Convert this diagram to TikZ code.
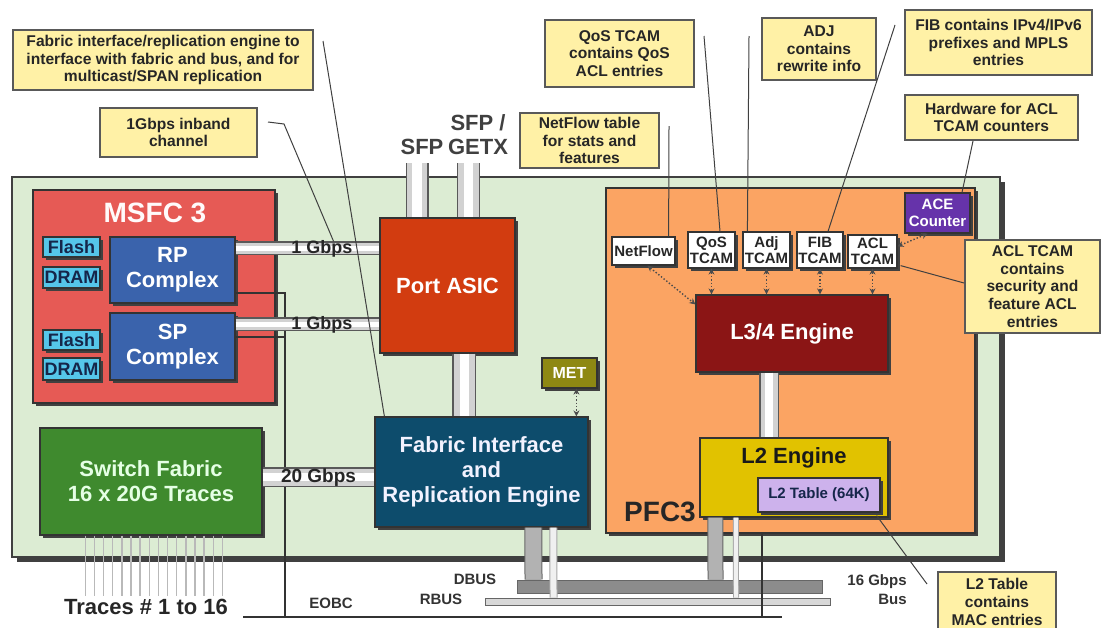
\documentclass[tikz,border=0pt]{standalone}
\usepackage{fontspec}
\setmainfont{Liberation Sans}
\usetikzlibrary{arrows.meta,calc,shadows}

\definecolor{cardgreen}{HTML}{DCECD3}
\definecolor{notefill}{HTML}{FFF1A6}
\definecolor{msfcred}{HTML}{E65A55}
\definecolor{memcyan}{HTML}{55C6EA}
\definecolor{navytext}{HTML}{15264A}
\definecolor{cpublue}{HTML}{3A63AC}
\definecolor{asicred}{HTML}{D23C10}
\definecolor{firblue}{HTML}{0D4C6C}
\definecolor{fabgreen}{HTML}{3F8A2E}
\definecolor{metolive}{HTML}{8E8813}
\definecolor{pfcorange}{HTML}{FBA463}
\definecolor{lthreered}{HTML}{8B1515}
\definecolor{ltwoyellow}{HTML}{E1C200}
\definecolor{ltwolav}{HTML}{CDB2EC}
\definecolor{acepurple}{HTML}{6633AA}
\definecolor{dbusgray}{HTML}{8C8C8C}
\definecolor{rbusgray}{HTML}{D8D8D8}

\tikzset{
  sz/.style 2 args={minimum width=#1pt, minimum height=#2pt},
  blk/.style={inner sep=0pt, draw=black!80, line width=0.6pt,
    drop shadow={shadow xshift=1.5pt, shadow yshift=-1.5pt, opacity=1, fill=black!75},
    font=\bfseries\fontsize{11}{12.5}\selectfont, text=white, align=center},
  notebox/.style={inner sep=0pt, draw=black!65, line width=1pt, fill=notefill,
    font=\bfseries\fontsize{7.8}{8.8}\selectfont, text=black!85, align=center},
  tcam/.style={blk, fill=white, text=black!85, font=\bfseries\fontsize{7.5}{8}\selectfont},
  mem/.style={blk, fill=memcyan, text=navytext, font=\bfseries\fontsize{9}{10}\selectfont},
  pipe/.style={preaction={draw=gray!70!black, line width=#1}, draw=gray!35,
    line width=#1-1.2pt, postaction={draw=white, line width=0.4*#1}},
  tap/.style={preaction={draw=black!60, line width=#1}, draw=gray!60, line width=#1-1pt},
  rtap/.style={preaction={draw=gray!70, line width=#1}, draw=gray!12, line width=#1-1pt},
  bus/.style={inner sep=0pt, draw=black!60, line width=0.5pt},
  eobc/.style={draw=black!80, line width=1pt},
  trace/.style={draw=gray!55, line width=0.7pt},
  leader/.style={draw=black!75, line width=0.5pt},
  dotarrow/.style={densely dotted, draw=black!70, line width=0.7pt,
    {Stealth[length=3pt,width=3pt]}-{Stealth[length=3pt,width=3pt]}},
  speed/.style={font=\bfseries\fontsize{9}{10}\selectfont, text=black!85, inner sep=0pt},
  buslabel/.style={font=\bfseries\fontsize{7.5}{9.5}\selectfont, text=black!80, inner sep=0pt},
  biglabel/.style={font=\bfseries\fontsize{14}{16}\selectfont, inner sep=0pt},
}

\begin{document}
\begin{tikzpicture}[x=0.5pt,y=-0.5pt]
  \useasboundingbox (0,0) rectangle (1106,627);

  % line card
  \node[inner sep=0pt, draw=black!75, line width=0.8pt, fill=cardgreen, sz={494}{190},
    drop shadow={shadow xshift=2.5pt, shadow yshift=-2.5pt, opacity=1, fill=black!75}]
    (card) at (506,367) {};

  % MSFC 3
  \node[blk, fill=msfcred, sz={121}{106.5}] (msfc) at (154,296.5) {};
  \node[biglabel, text=white!92!pink] (msfclbl) at (155,213) {MSFC 3};
  \node[mem, sz={28.5}{10}] (flash1) at (71.5,247) {Flash};
  \node[mem, sz={28.5}{10.5}] (dram1) at (71.5,277.5) {DRAM};
  \node[mem, sz={28.5}{10}] (flash2) at (71.5,340) {Flash};
  \node[mem, sz={28.5}{11}] (dram2) at (71.5,369) {DRAM};
  \node[blk, fill=cpublue, sz={62.5}{33}] (rp) at (172.5,270) {RP\\Complex};
  \node[blk, fill=cpublue, sz={62.5}{33.5}] (sp) at (172.5,346.5) {SP\\Complex};

  % switch fabric and traces
  \node[blk, fill=fabgreen, text=green!10, sz={111}{53.5}] (swf) at (151,481.5)
    {Switch Fabric\\16 x 20G Traces};
  \foreach \i in {0,...,15}
    \draw[trace] ($(swf.south west)+(46+9.13*\i,0)$) -- ++(0,60);
  \node[font=\bfseries\fontsize{11}{12}\selectfont, text=black!85] (traceslbl)
    at (146,607) {Traces \# 1 to 16};

  % EOBC
  \coordinate (eobcw) at (243,617);
  \coordinate (eobce) at (782,617);
  \coordinate (eobcj) at (285,617);
  \draw[eobc] (eobcw) -- (eobce);
  \draw[eobc] ($(rp.south east)+(0,-11)$) -| (eobcj);
  \draw[eobc] ($(sp.north east)+(0,25)$) coordinate (spe) -- (spe -| eobcj);

  % port ASIC, fabric interface, MET
  \node[blk, fill=asicred, sz={67.5}{67.5}] (asic) at (447.5,285.5) {Port ASIC};
  \node[blk, fill=firblue, text=blue!5, sz={106.5}{55}] (fire) at (481.5,472)
    {Fabric Interface\\and\\Replication Engine};
  \node[blk, fill=metolive, font=\bfseries\fontsize{8}{9}\selectfont, sz={27.5}{15}]
    (met) at (569.5,373) {MET};

  \coordinate (sfpa) at (417,163);
  \coordinate (sfpb) at (468.5,163);
  \draw[pipe=11.5pt] (sfpa) -- (sfpa |- asic.north);
  \draw[pipe=11.5pt] (sfpb) -- (sfpb |- asic.north);
  \node[font=\bfseries\fontsize{11}{12}\selectfont, text=black!75] (sfplbl) at (422,147) {SFP};
  \node[font=\bfseries\fontsize{11}{12}\selectfont, text=black!75, align=center]
    (getxlbl) at (478,135) {SFP /\\GETX};

  \draw[pipe=7pt] ($(rp.north east)+(0,12)$) -- ($(asic.north west)+(0,31)$)
    node[speed, pos=0.6] (gig1) {1 Gbps};
  \draw[pipe=7pt] ($(sp.north east)+(0,12)$) -- ($(asic.north west)+(0,107)$)
    node[speed, pos=0.6] (gig2) {1 Gbps};
  \draw[pipe=10pt] ($(swf.north east)+(0,50)$) -- ($(fire.north west)+(0,61)$)
    node[speed, font=\bfseries\fontsize{9.5}{10}\selectfont, midway] (gig20) {20 Gbps};
  \draw[pipe=12pt] ($(asic.south west)+(85,0)$) -- ($(fire.north west)+(90,0)$);
  \draw[dotarrow] ($(met.south west)+(35,0)$) -- ($(fire.north west)+(202,0)$);

  % PFC3
  \node[blk, fill=pfcorange, sz={184.5}{172.5}] (pfc) at (790.5,360.5) {};
  \node[biglabel, text=black!85] (pfclbl) at (660,512) {PFC3};
  \node[tcam, sz={31.5}{14}] (netflow) at (643.5,251) {NetFlow};
  \node[tcam, sz={23.5}{18}] (qos) at (711.5,250) {QoS\\TCAM};
  \node[tcam, sz={23.5}{18}] (adj) at (766.5,250) {Adj\\TCAM};
  \node[tcam, sz={23}{18}] (fib) at (820,250) {FIB\\TCAM};
  \node[tcam, sz={24.5}{16.5}] (acl) at (872.5,251.5) {ACL\\TCAM};
  \node[blk, fill=acepurple, font=\bfseries\fontsize{7.5}{8.5}\selectfont, sz={32.5}{20}]
    (ace) at (937.5,213) {ACE\\Counter};
  \node[blk, fill=lthreered, sz={96}{38.5}] (l34) at (792,333.5) {L3/4 Engine};
  \node[blk, fill=ltwoyellow, sz={94}{39.5}] (l2) at (794,477.5) {};
  \node[font=\bfseries\fontsize{11}{12}\selectfont, text=black!90] (l2lbl) at (794,458) {L2 Engine};
  \node[blk, fill=ltwolav, text=navytext, font=\bfseries\fontsize{7.5}{8}\selectfont,
    sz={61}{17}] (l2t) at (819,495) {L2 Table (64K)};
  \draw[pipe=10pt] ($(l34.south west)+(74,0)$) -- ($(l2.north west)+(70,0)$);

  \foreach \t in {qos,adj,fib,acl}
    \draw[dotarrow] (\t.south) -- (\t.south |- l34.north);
  \draw[dotarrow] ($(netflow.south)+(4,0)$) -- ($(l34.north west)+(0,10)$);
  \draw[dotarrow] ($(ace.south)+(-10,0)$) -- ($(acl.north east)+(0,12)$);

  % buses
  \node[bus, fill=dbusgray, sz={152.5}{6.5}] (dbus) at (669.5,586.5) {};
  \node[bus, fill=rbusgray, sz={172.5}{3.5}] (rbus) at (657.5,601.5) {};
  \draw[tap=9pt] ($(fire.south west)+(159,0)$) -- ($(dbus.north west)+(17,0)$);
  \draw[rtap=4pt] ($(fire.south west)+(179,0)$) -- ($(rbus.north west)+(69,0)$);
  \draw[tap=8pt] ($(l2.south west)+(16,0)$) -- ($(dbus.north west)+(199,0)$);
  \draw[rtap=3pt] ($(l2.south west)+(36.5,0)$) -- ($(rbus.north west)+(251.5,0)$);
  \draw[eobc] (pfc.south -| eobce) ++(-20,0) coordinate (pfce) -- (pfce |- eobce);
  \node[buslabel] (dbuslbl) at (475,579) {DBUS};
  \node[buslabel] (rbuslbl) at (441,599) {RBUS};
  \node[buslabel] (eobclbl) at (331,603) {EOBC};
  \node[buslabel, align=right, anchor=east] (gbus) at (907,590) {16 Gbps\\Bus};

  % callouts
  \node[notebox, sz={150}{30}] (nfab) at (163,60)
    {Fabric interface/replication engine to\\interface with fabric and bus, and for\\multicast/SPAN replication};
  \node[notebox, sz={78.5}{24.5}] (ninband) at (178.5,132.5) {1Gbps inband\\channel};
  \node[notebox, sz={69.5}{27.5}] (nnetflow) at (589.5,140.5) {NetFlow table\\for stats and\\features};
  \node[notebox, sz={74.5}{33.5}] (nqos) at (619.5,53.5) {QoS TCAM\\contains QoS\\ACL entries};
  \node[notebox, sz={57}{31}] (nadj) at (819,49) {ADJ\\contains\\rewrite info};
  \node[notebox, sz={93.5}{32.5}] (nfib) at (998.5,42.5) {FIB contains IPv4/IPv6\\prefixes and MPLS\\entries};
  \node[notebox, sz={86.5}{22.5}] (nhw) at (991.5,117.5) {Hardware for ACL\\TCAM counters};
  \node[notebox, sz={67.5}{46.5}] (nacl) at (1032.5,286.5)
    {ACL TCAM\\contains\\security and\\feature ACL\\entries};
  \node[notebox, sz={59}{30}] (nl2) at (997,602) {L2 Table\\contains\\MAC entries};

  \draw[leader] ($(nfab.north east)+(9,12)$) -- ($(fire.north west)+(10,0)$);
  \draw[leader] ($(ninband.north east)+(10,15)$) -- ++(16,2) -- ($(rp.north east)+(98,5)$);
  \draw[leader] ($(nnetflow.north east)+(9,14)$) -- ($(netflow.north east)+(-7,0)$);
  \draw[leader] ($(nqos.north east)+(9,17)$) -- ($(qos.north)+(8.5,0)$);
  \draw[leader] ($(nadj.north west)+(-12,19)$) -- ($(adj.north west)+(5,0)$);
  \draw[leader] ($(nfib.north west)+(-9,16)$) -- ($(fib.north)+(8,0)$);
  \draw[leader] ($(nhw.south)+(-18.5,0)$) -- ($(ace.north)+(24.5,0)$);
  \draw[leader] ($(acl.south east)+(3,-3)$) -- ($(nacl.west)+(0,-3.5)$);
  \draw[leader] ($(l2t.south east)+(-4,3)$) -- ($(nl2.north west)+(-10,13)$);
\end{tikzpicture}
\end{document}
